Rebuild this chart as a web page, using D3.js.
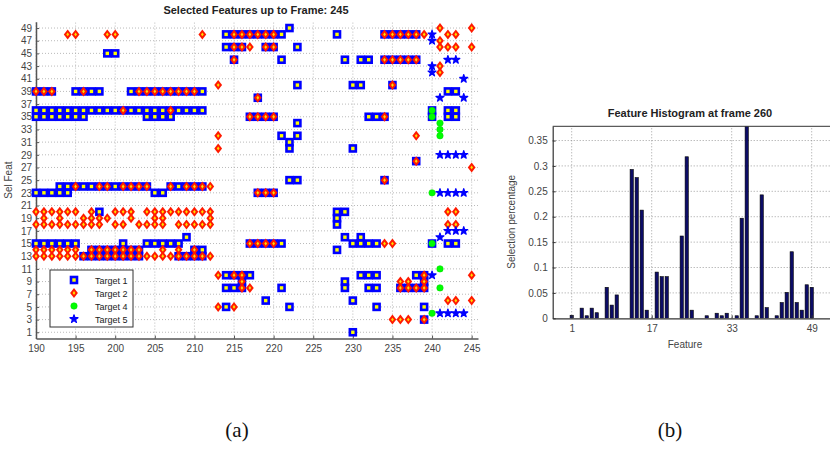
<!DOCTYPE html>
<html>
<head>
<meta charset="utf-8">
<script src="https://cdn.jsdelivr.net/npm/d3@7"></script>
<style>
  body { margin: 0; background: #fff; }
  svg text { font-family: "Liberation Sans", Arial, sans-serif; }
</style>
</head>
<body>
<svg id="chart" width="830" height="449"></svg>
<script>
// ---- data: (a) selected features per frame, rows are [feature, frames] ----
const target1 = [
  [49, [222]],
  [48, [214, 215, 216, 217, 218, 219, 220, 221, 228, 234, 235, 236, 237, 238]],
  [46, [214, 215, 216, 219, 220, 223]],
  [45, [199, 200]],
  [44, [215, 221, 229, 231, 232, 234, 235, 236, 237, 238]],
  [40, [223, 230, 231, 235]],
  [39, [190, 191, 192, 195, 196, 197, 198, 202, 203, 204, 205, 206, 207, 208, 209, 210, 211, 242, 243]],
  [38, [218]],
  [36, [190, 191, 192, 193, 194, 195, 196, 197, 198, 199, 200, 201, 202, 203, 204, 205, 206, 207, 208, 209, 210, 211, 240, 242, 243]],
  [35, [190, 191, 192, 193, 194, 195, 196, 204, 205, 206, 207, 217, 218, 219, 220, 232, 233, 234, 240, 242, 243]],
  [34, [223]],
  [32, [221, 223]],
  [31, [222]],
  [30, [222, 230]],
  [28, [238]],
  [25, [222, 223, 234]],
  [24, [193, 194, 195, 196, 197, 198, 199, 200, 201, 202, 203, 204, 207, 208, 209, 210, 211]],
  [23, [190, 191, 192, 193, 194, 205, 206, 218, 219, 220]],
  [20, [198, 228, 229]],
  [19, [228]],
  [18, [228]],
  [16, [209, 229, 231]],
  [15, [190, 191, 192, 193, 194, 195, 201, 204, 205, 206, 207, 208, 217, 218, 219, 220, 221, 230, 231, 232, 233, 240, 242, 243]],
  [14, [197, 198, 199, 200, 201, 202, 203, 210, 211, 228]],
  [13, [196, 197, 198, 199, 200, 201, 202, 203, 208, 209, 210, 211]],
  [10, [214, 215, 216, 217, 231, 232, 233, 238, 239]],
  [9, [216, 229, 239]],
  [8, [214, 215, 216, 221, 229, 232, 233, 236, 237, 238, 239]],
  [6, [219, 230]],
  [5, [214, 222, 233, 239]],
  [3, [239]],
  [1, [230]]
];

const target2 = [
  [49, [241, 245]],
  [48, [194, 195, 199, 200, 211, 215, 216, 217, 218, 219, 220, 234, 235, 236, 237, 238, 239, 242, 243]],
  [47, [241]],
  [46, [215, 216, 217, 219, 220, 241, 242, 243, 245]],
  [44, [215, 234, 235, 236, 237, 238]],
  [43, [241]],
  [42, [241]],
  [40, [213, 235]],
  [39, [190, 191, 192, 196, 203, 204, 205, 206, 207, 208, 209, 210]],
  [38, [218]],
  [36, [201, 207]],
  [35, [217, 218, 219, 220, 234]],
  [32, [213, 238]],
  [30, [213]],
  [28, [238]],
  [27, [245]],
  [25, [234]],
  [24, [195, 198, 199, 201, 202, 203, 204, 207, 209, 210, 211, 212]],
  [23, [218, 219, 220]],
  [20, [190, 191, 192, 193, 194, 195, 197, 200, 201, 202, 204, 205, 206, 207, 208, 209, 210, 211, 212, 242, 243]],
  [19, [191, 193, 196, 197, 198, 199, 202, 205, 206, 212]],
  [18, [190, 191, 192, 193, 194, 195, 196, 197, 198, 200, 201, 203, 204, 205, 206, 208, 209, 210, 211, 212, 242, 243]],
  [15, [217, 218, 219, 220, 234, 235]],
  [14, [190, 191, 192, 193, 194, 195, 197, 198, 199, 200, 201, 202, 203, 206, 208, 210]],
  [13, [190, 191, 192, 193, 194, 195, 196, 197, 198, 199, 200, 201, 202, 203, 204, 205, 206, 207, 208, 209, 210, 211, 212]],
  [10, [213, 215, 216, 239, 245]],
  [9, [216, 236, 237, 239]],
  [8, [216, 217, 236, 237, 238, 239]],
  [6, [242, 243, 245]],
  [5, [213, 215]],
  [3, [235, 236, 237, 239]]
];

const target4 = [
  [36, [240]], [35, [240]], [34, [241]], [33, [241]], [32, [241]],
  [23, [240]], [15, [240]], [11, [241]], [8, [241]], [4, [240]]
];

const target5 = [
  [48, [240]], [47, [240]], [44, [242, 243]], [43, [240]], [42, [240]],
  [41, [244]], [38, [241, 244]], [29, [241, 242, 243, 244]],
  [23, [241, 242, 243, 244]], [17, [242, 243, 244]], [16, [241]],
  [10, [240]], [4, [241, 242, 243, 244]]
];

const legendLabels = ["Target 1", "Target 2", "Target 4", "Target 5"];
const frameTicks = [190, 195, 200, 205, 210, 215, 220, 225, 230, 235, 240, 245];
const featTicks = d3.range(1, 50, 2);

// ---- data: (b) feature histogram at frame 260 ----
const histFeatures = [1, 3, 4, 5, 6, 8, 9, 10, 13, 14, 15, 16, 18, 19, 20, 23, 24, 25,
  28, 30, 31, 32, 34, 35, 36, 38, 39, 40, 42, 43, 44, 45, 46, 47, 48, 49];
const histValues = [0.006, 0.02, 0.005, 0.02, 0.011, 0.061, 0.026, 0.046, 0.293, 0.277, 0.213, 0.016,
  0.091, 0.082, 0.082, 0.162, 0.318, 0.016, 0.005, 0.01, 0.005, 0.01, 0.005, 0.197, 0.38,
  0.005, 0.243, 0.021, 0.005, 0.031, 0.051, 0.131, 0.031, 0.016, 0.066, 0.061];
const histXTicks = [1, 17, 33, 49];
const histYTicks = [0, 0.05, 0.1, 0.15, 0.2, 0.25, 0.3, 0.35];

const svg = d3.select("#chart");

// *******************
// (a) scatter of selected features
// *******************
const x = d3.scaleLinear().domain([190, 245.8]).range([36, 478]);
const y = d3.scaleLinear().domain([0, 50]).range([338.6, 21.7]);

const gA = svg.append("g");

// dotted grid
gA.selectAll(".vgrid").data(frameTicks).join("line")
  .attr("x1", d => x(d)).attr("x2", d => x(d))
  .attr("y1", y(0)).attr("y2", y(50))
  .attr("stroke", "#a8a8a8").attr("stroke-width", 0.8).attr("stroke-dasharray", "1,2");
gA.selectAll(".hgrid").data(featTicks).join("line")
  .attr("x1", x(190)).attr("x2", x(245.8))
  .attr("y1", d => y(d)).attr("y2", d => y(d))
  .attr("stroke", "#a8a8a8").attr("stroke-width", 0.8).attr("stroke-dasharray", "1,2");

// axes
const xAxisA = d3.axisBottom(x).tickValues(frameTicks).tickSizeInner(-3).tickSizeOuter(0).tickPadding(6);
const yAxisA = d3.axisLeft(y).tickValues(featTicks).tickSizeInner(-3).tickSizeOuter(0).tickPadding(4);
const xa = gA.append("g").attr("transform", `translate(0,${y(0)})`).call(xAxisA);
const ya = gA.append("g").attr("transform", `translate(${x(190)},0)`).call(yAxisA);
[xa, ya].forEach(a => {
  a.select(".domain").attr("stroke", "#555").attr("stroke-width", 1.5);
  a.selectAll(".tick line").attr("stroke", "#555");
  a.selectAll("text").attr("fill", "#444").style("font-size", "10px");
});

gA.append("text")
  .attr("x", 256).attr("y", 14)
  .attr("text-anchor", "middle")
  .style("font-size", "11px").style("font-weight", "bold")
  .attr("fill", "#222")
  .text("Selected Features up to Frame: 245");

gA.append("text")
  .attr("transform", `translate(12,${y(25)}) rotate(-90)`)
  .attr("text-anchor", "middle")
  .style("font-size", "10px").attr("fill", "#444")
  .text("Sel Feat");

function flatten(rows) {
  const out = [];
  rows.forEach(([feat, frames]) => frames.forEach(f => out.push({ frame: f, feat })));
  return out;
}

const diamondOuter = "M0,-5L3.9,0L0,5L-3.9,0Z";
const diamondInner = "M0,-1.9L1.4,0L0,1.9L-1.4,0Z";
const starPath = d3.symbol().type(d3.symbolStar).size(20)();

function drawSquare(sel) {
  sel.append("rect").attr("x", -3).attr("y", -3).attr("width", 6).attr("height", 6)
    .attr("fill", "#ffff00").attr("stroke", "#0000ff").attr("stroke-width", 2.6);
}
function drawDiamond(sel) {
  sel.append("path").attr("d", diamondOuter).attr("fill", "#ff1a00");
  sel.append("path").attr("d", diamondInner).attr("fill", "#ffdd00");
}
function drawCircle(sel) {
  sel.append("circle").attr("r", 3.2).attr("fill", "#00ff00").attr("stroke", "#00dd00").attr("stroke-width", 0.6);
}
function drawStar(sel) {
  sel.append("path").attr("d", starPath).attr("fill", "#0000ff").attr("stroke", "#0000ff")
    .attr("stroke-width", 1.2).attr("stroke-linejoin", "round");
}

const series = [
  { rows: target1, draw: drawSquare },
  { rows: target2, draw: drawDiamond },
  { rows: target4, draw: drawCircle },
  { rows: target5, draw: drawStar }
];

series.forEach(s => {
  gA.append("g").selectAll("g").data(flatten(s.rows)).join("g")
    .attr("transform", d => `translate(${x(d.frame)},${y(d.feat)})`)
    .each(function () { s.draw(d3.select(this)); });
});

// legend
const leg = gA.append("g").attr("transform", "translate(50,270)");
leg.append("rect").attr("width", 83).attr("height", 57)
  .attr("fill", "#fff").attr("stroke", "#333").attr("stroke-width", 1);
legendLabels.forEach((lab, i) => {
  const row = leg.append("g").attr("transform", `translate(24,${10 + i * 13})`);
  series[i].draw(row);
  row.append("text").attr("x", 21).attr("y", 3.5)
    .style("font-size", "9px").attr("fill", "#222").text(lab);
});

// *******************
// (b) histogram
// *******************
const xh = d3.scaleLinear().domain([-2.8, 53]).range([552.7, 831.7]);
const yh = d3.scaleLinear().domain([0, 0.378]).range([318.3, 126.3]);

const gB = svg.append("g");

gB.selectAll(".hv").data(histXTicks).join("line")
  .attr("x1", d => xh(d)).attr("x2", d => xh(d))
  .attr("y1", yh(0)).attr("y2", yh(0.378))
  .attr("stroke", "#888").attr("stroke-width", 0.8).attr("stroke-dasharray", "1,2");
gB.selectAll(".hh").data(histYTicks.slice(1)).join("line")
  .attr("x1", xh(-2.8)).attr("x2", 830)
  .attr("y1", d => yh(d)).attr("y2", d => yh(d))
  .attr("stroke", "#888").attr("stroke-width", 0.8).attr("stroke-dasharray", "1,2");

svg.append("clipPath").attr("id", "histClip")
  .append("rect").attr("x", xh(-2.8)).attr("y", yh(0.378))
  .attr("width", 300).attr("height", yh(0) - yh(0.378));

gB.append("g").attr("clip-path", "url(#histClip)")
  .selectAll("rect").data(histFeatures).join("rect")
  .attr("x", d => xh(d) - 1.6)
  .attr("width", 3.2)
  .attr("y", (d, i) => yh(histValues[i]))
  .attr("height", (d, i) => yh(0) - yh(histValues[i]))
  .attr("fill", "#0c0c66").attr("stroke", "#000").attr("stroke-width", 0.6);

const xAxisB = d3.axisBottom(xh).tickValues(histXTicks).tickSizeInner(-3).tickSizeOuter(0).tickPadding(7);
const yAxisB = d3.axisLeft(yh).tickValues(histYTicks).tickFormat(d3.format("~g")).tickSizeInner(-3).tickSizeOuter(0).tickPadding(5);
const xb = gB.append("g").attr("transform", `translate(0,${yh(0)})`).call(xAxisB);
const yb = gB.append("g").attr("transform", `translate(${xh(-2.8)},0)`).call(yAxisB);
[xb, yb].forEach(a => {
  a.select(".domain").attr("stroke", "#333").attr("stroke-width", 1.2);
  a.selectAll(".tick line").attr("stroke", "#333");
  a.selectAll("text").attr("fill", "#444").style("font-size", "10px");
});
// top border of the box
gB.append("line")
  .attr("x1", xh(-2.8)).attr("x2", 830)
  .attr("y1", yh(0.378)).attr("y2", yh(0.378))
  .attr("stroke", "#333").attr("stroke-width", 1);

gB.append("text")
  .attr("x", 690).attr("y", 117)
  .attr("text-anchor", "middle")
  .style("font-size", "11px").style("font-weight", "bold").attr("fill", "#222")
  .text("Feature Histogram at frame 260");

gB.append("text")
  .attr("transform", `translate(515,${yh(0.19)}) rotate(-90)`)
  .attr("text-anchor", "middle")
  .style("font-size", "10px").attr("fill", "#444")
  .text("Selection percentage");

gB.append("text")
  .attr("x", 685).attr("y", 348)
  .attr("text-anchor", "middle")
  .style("font-size", "10px").attr("fill", "#444")
  .text("Feature");

// captions
[["(a)", 237], ["(b)", 670]].forEach(([t, cx]) => {
  svg.append("text")
    .attr("x", cx).attr("y", 437)
    .attr("text-anchor", "middle")
    .style("font-family", "'Liberation Serif', 'DejaVu Serif', serif")
    .style("font-size", "21px").attr("fill", "#111")
    .text(t);
});
</script>
</body>
</html>
